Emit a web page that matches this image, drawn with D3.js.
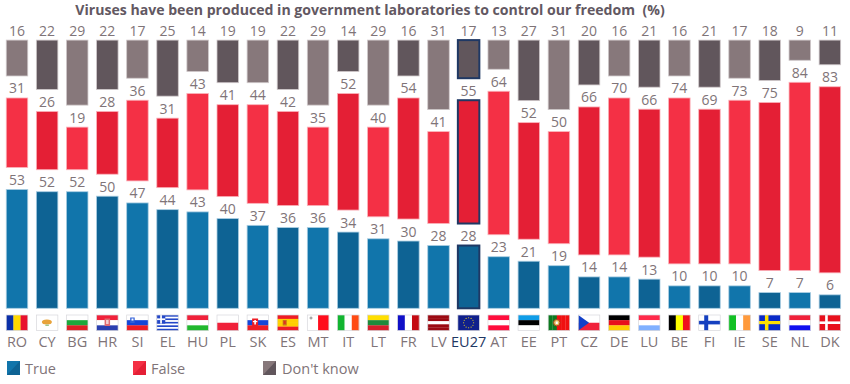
<!DOCTYPE html>
<html>
<head>
<meta charset="utf-8">
<script src="https://cdnjs.cloudflare.com/ajax/libs/d3/7.8.5/d3.min.js"></script>
<style>
  html, body { margin: 0; padding: 0; background: #fff; }
  text { font-family: "Open Sans", sans-serif; }
</style>
</head>
<body>
<div id="main1"></div>
<script>
const countries = ["RO","CY","BG","HR","SI","EL","HU","PL","SK","ES","MT","IT","LT","FR","LV","EU27","AT","EE","PT","CZ","DE","LU","BE","FI","IE","SE","NL","DK"];
const trueValues = [53,52,52,50,47,44,43,40,37,36,36,34,31,30,28,28,23,21,19,14,14,13,10,10,10,7,7,6];
const falseValues = [31,26,19,28,36,31,43,41,44,42,35,52,40,54,41,55,64,52,50,66,70,66,74,69,73,75,84,83];
const dontKnowValues = [16,22,29,22,17,25,14,19,19,22,29,14,29,16,31,17,13,27,31,20,16,21,16,21,17,18,9,11];
const seriesNames = ["True","False","Don't know"];
const title = "Viruses have been produced in government laboratories to control our freedom  (%)";

// light / dark colours alternate from one bar to the next
const lightColors = ["#1175ab","#f43045","#87787b"];
const darkColors = ["#0e6394","#e41f35","#61565c"];
const borderColors = ["#a9cde2","#fbb3bb","#cfc8ca"];
const textColor = "#7f7478";
const euColor = "#1f3864";

// flag definitions: direction and colour stripes
const flagStripes = {
  RO: ["v",["#0a2fa8","#ffd800","#e8112d"]],
  CY: ["h",["#ffffff"]],
  BG: ["h",["#ffffff","#1ea83c","#e01f26"]],
  HR: ["h",["#f0213a","#ffffff","#2a3fb0"]],
  SI: ["h",["#ffffff","#1546d8","#ee1c25"]],
  EL: ["h",["#2347c8","#ffffff","#2347c8","#ffffff","#2347c8","#ffffff","#2347c8","#ffffff","#2347c8"]],
  HU: ["h",["#f0213a","#ffffff","#22b82e"]],
  PL: ["h",["#ffffff","#f0213a"]],
  SK: ["h",["#ffffff","#1546d8","#ee1c25"]],
  ES: ["h",["#ee1c25","#ffd000","#ffd000","#ee1c25"]],
  MT: ["v",["#ffffff","#ff0d1c"]],
  IT: ["v",["#12b530","#ffffff","#ff4a12"]],
  LT: ["h",["#ffdf00","#1f8a3c","#d81e2c"]],
  FR: ["v",["#1010c8","#ffffff","#c40a12"]],
  LV: ["h",["#9c0a12","#9c0a12","#ffffff","#9c0a12","#9c0a12"]],
  EU27: ["h",["#10208c"]],
  AT: ["h",["#ff0d3c","#ffffff","#ff0d3c"]],
  EE: ["h",["#0f9de8","#000000","#ffffff"]],
  PT: ["v",["#0d7a20","#0d7a20","#f01010","#f01010","#f01010"]],
  CZ: ["h",["#ffffff","#f0213a"]],
  DE: ["h",["#000000","#e8101c","#ffcc00"]],
  LU: ["h",["#ff2a4a","#ffffff","#7fb0ff"]],
  BE: ["v",["#000000","#ffff00","#f0101c"]],
  FI: ["h",["#ffffff"]],
  IE: ["v",["#12c024","#ffffff","#ff9a3c"]],
  SE: ["h",["#0a2ac8"]],
  NL: ["h",["#f0213a","#ffffff","#1010f0"]],
  DK: ["h",["#e8101c"]]
};

// set the dimensions of the graph
var width = 850, height = 384;
var baseY = 308.3, gap = 22;

var svg = d3.select("#main1")
  .append("svg")
    .attr("width", width)
    .attr("height", height)
    .style("display", "block");

var x = d3.scaleBand()
  .domain(countries)
  .range([1.95, 844.95])
  .paddingInner(0.286)
  .paddingOuter(0.143);

// value -> pixel length of a segment
var y = d3.scaleLinear()
  .domain([0, 100])
  .range([0, 224.2]);

// title
svg.append("text")
  .attr("x", 370)
  .attr("y", 14.5)
  .attr("text-anchor", "middle")
  .attr("font-size", 14.1)
  .attr("font-weight", 700)
  .attr("fill", "#625862")
  .attr("xml:space", "preserve")
  .style("white-space", "pre")
  .text(title);

// one row per country, three segments with a gap between them
var rows = countries.map((c, i) => {
  let t = trueValues[i], f = falseValues[i], d = dontKnowValues[i];
  return { country: c, index: i, parts: [
    { s: 0, value: t, start: 0 },
    { s: 1, value: f, start: t },
    { s: 2, value: d, start: t + f }
  ]};
});

var groups = svg.selectAll("g.country")
  .data(rows)
  .enter()
  .append("g")
    .attr("class", "country");

groups.selectAll("rect")
  .data(d => d.parts.map(p => Object.assign({ country: d.country, index: d.index }, p)))
  .enter()
  .append("rect")
    .attr("x", d => x(d.country))
    .attr("y", d => baseY - y(d.start + d.value) - d.s * gap)
    .attr("width", x.bandwidth())
    .attr("height", d => y(d.value))
    .attr("fill", d => (d.country == "EU27" || d.index % 2 == 1) ? darkColors[d.s] : lightColors[d.s])
    .attr("stroke", d => d.country == "EU27" ? euColor : borderColors[d.s])
    .attr("stroke-width", d => d.country == "EU27" ? 2 : 0.8);

groups.selectAll("text")
  .data(d => d.parts.map(p => Object.assign({ country: d.country }, p)))
  .enter()
  .append("text")
    .attr("x", d => x(d.country) + x.bandwidth() / 2)
    .attr("y", d => baseY - y(d.start + d.value) - d.s * gap - 4.5)
    .attr("text-anchor", "middle")
    .attr("font-size", 14)
    .attr("fill", textColor)
    .text(d => d.value);

// country labels
var xAxis = svg.append("g")
  .attr("transform", "translate(0," + baseY + ")")
  .call(d3.axisBottom(x).tickSize(0).tickPadding(28.5));
xAxis.select(".domain").remove();
xAxis.selectAll("text")
  .attr("font-size", 14.5)
  .style("font-family", "'Open Sans', sans-serif")
  .attr("fill", d => d == "EU27" ? euColor : textColor);

// flags
var flagH = 15.5;
function drawFlag(code) {
  let g = d3.select(this);
  let w = x.bandwidth();
  let spec = flagStripes[code];
  let n = spec[1].length;
  g.selectAll("rect.stripe")
    .data(spec[1])
    .enter()
    .append("rect")
      .attr("class", "stripe")
      .attr("x", (d, i) => spec[0] == "v" ? i * w / n : 0)
      .attr("y", (d, i) => spec[0] == "h" ? i * flagH / n : 0)
      .attr("width", spec[0] == "v" ? w / n + 0.2 : w)
      .attr("height", spec[0] == "h" ? flagH / n + 0.2 : flagH)
      .attr("fill", d => d);

  let box = (bx, by, bw, bh, c) => g.append("rect").attr("x", bx).attr("y", by).attr("width", bw).attr("height", bh).attr("fill", c);

  if (code == "CY") g.append("ellipse").attr("cx", 10.5).attr("cy", 7).attr("rx", 5).attr("ry", 2.5).attr("fill", "#e8a33a");
  if (code == "CY") box(9, 9.5, 3.5, 1.5, "#9fc48a");
  if (code == "HR") { box(8, 3.5, 5.5, 7.5, "#e06a70"); box(9.5, 5, 2.5, 4, "#f4d0d0"); }
  if (code == "SI") { box(3.5, 2.5, 4.5, 5.5, "#2f5fd8"); box(4.8, 3.5, 2, 2, "#ffffff"); }
  if (code == "EL") { box(0, 0, 8.5, 8.6, "#2347c8"); box(3.4, 0, 1.7, 8.6, "#ffffff"); box(0, 3.4, 8.5, 1.7, "#ffffff"); }
  if (code == "SK") { box(5, 3.5, 6, 8, "#ee1c25"); box(7.2, 5, 1.6, 4.5, "#ffffff"); box(5.8, 6, 4.4, 1.2, "#ffffff"); }
  if (code == "ES") { box(5.5, 5, 4, 5.5, "#c8701a"); box(6.5, 6, 2, 3, "#e03020"); }
  if (code == "MT") { box(2.2, 2.5, 3, 1, "#8a8a8a"); box(3.2, 1.5, 1, 3, "#8a8a8a"); }
  if (code == "PT") { g.append("circle").attr("cx", 8.6).attr("cy", 7.7).attr("r", 3.2).attr("fill", "#e8c060").attr("stroke", "#a84020"); box(7.6, 6.5, 2, 2.5, "#ffffff"); }
  if (code == "CZ") g.append("polygon").attr("points", "0,0 " + w * 0.5 + "," + flagH / 2 + " 0," + flagH).attr("fill", "#1240c8");
  if (code == "FI") { box(5.5, 0, 4, flagH, "#1440c0"); box(0, 5.8, w, 3.6, "#1440c0"); }
  if (code == "SE") { box(6, 0, 3.5, flagH, "#ffdf00"); box(0, 6, w, 3.2, "#ffdf00"); }
  if (code == "DK") { box(6, 0, 2.6, flagH, "#ffffff"); box(0, 6.4, w, 2.6, "#ffffff"); }
  if (code == "EU27") {
    g.selectAll("circle.star")
      .data(d3.range(12))
      .enter()
      .append("circle")
        .attr("class", "star")
        .attr("cx", d => w / 2 + 5 * Math.sin(d * Math.PI / 6))
        .attr("cy", d => flagH / 2 + 5 * Math.cos(d * Math.PI / 6))
        .attr("r", 0.6)
        .attr("fill", "#e8d020");
  }

  g.append("rect")
    .attr("width", w)
    .attr("height", flagH)
    .attr("fill", "none")
    .attr("stroke", "#d8d8dc")
    .attr("stroke-width", 0.7);
}

svg.selectAll("g.flag")
  .data(countries)
  .enter()
  .append("g")
    .attr("class", "flag")
    .attr("transform", d => "translate(" + x(d) + ",315)")
    .each(drawFlag);

// legend
var legendX = [7, 133, 263];
var legend = svg.selectAll("g.legend")
  .data(seriesNames)
  .enter()
  .append("g")
    .attr("class", "legend")
    .attr("transform", (d, i) => "translate(" + legendX[i] + ",361)");
legend.append("rect")
  .attr("width", 13)
  .attr("height", 14)
  .attr("fill", (d, i) => lightColors[i]);
legend.append("polygon")
  .attr("points", "13,0 13,14 0,14")
  .attr("fill", (d, i) => darkColors[i]);
legend.append("text")
  .attr("x", (d, i) => i == 2 ? 19 : 18)
  .attr("y", 12.5)
  .attr("font-size", 14.5)
  .attr("fill", textColor)
  .text(d => d);
</script>
</body>
</html>
